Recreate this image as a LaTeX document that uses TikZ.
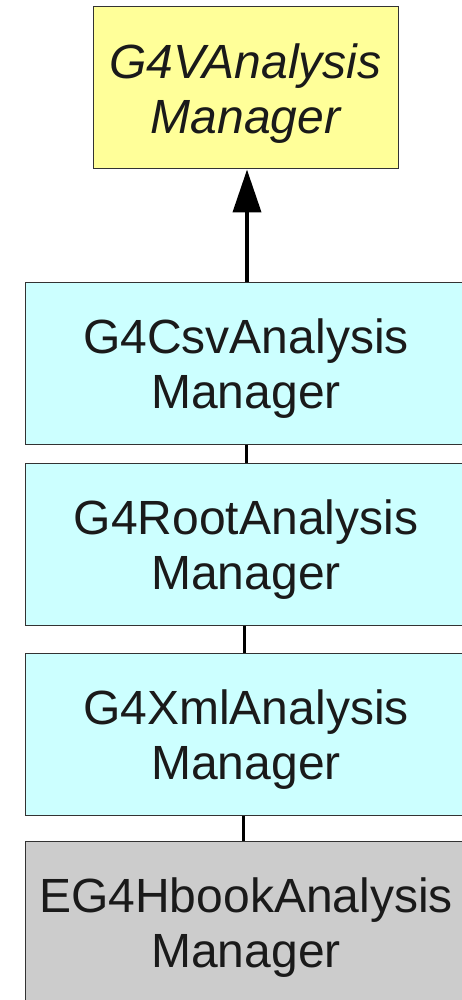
\documentclass[tikz,border=0pt]{standalone}
\usepackage{fontspec}
\setmainfont{Liberation Sans}
\usetikzlibrary{arrows.meta}
\definecolor{yel}{HTML}{FFFF99}
\definecolor{cya}{HTML}{CCFFFF}
\definecolor{gry}{HTML}{CCCCCC}
\definecolor{bord}{HTML}{333333}
\definecolor{txt}{HTML}{1A1A1A}
\newcommand{\toppad}{\rule{0pt}{45pt}}
\tikzset{
  cls/.style={draw=bord, line width=1pt, minimum height=162pt, inner sep=0pt,
    align=center, text=txt, font=\fontsize{48pt}{55pt}\selectfont},
  link/.style={line width=3pt, draw=black},
  inh/.style={line width=4pt, draw=black, -{Triangle[width=28pt,length=43pt]}}
}
\begin{document}
\begin{tikzpicture}[x=1pt,y=-1pt]
\useasboundingbox (0,0) rectangle (462,1000);
\clip (0,0) rectangle (462,1000);
\node[cls, fill=yel, minimum width=305pt] (base) at (245.5,88) {\toppad\itshape G4VAnalysis\\\itshape Manager};
\node[cls, fill=cya, minimum width=442pt] (csv) at (246,363) {\toppad G4CsvAnalysis\\Manager};
\node[cls, fill=cya, minimum width=442pt] (root) at (246,544) {\toppad G4RootAnalysis\\Manager};
\node[cls, fill=cya, minimum width=442pt] (xml) at (246,734) {\toppad G4XmlAnalysis\\Manager};
\node[cls, fill=gry, minimum width=442pt] (hbook) at (246,922) {\toppad EG4HbookAnalysis\\Manager};
\draw[inh] ([xshift=1pt]csv.north) -- ([xshift=1pt]csv.north |- base.south);
\draw[link] (root.north) -- (csv.south);
\draw[link] ([xshift=-2pt]xml.north) -- ([xshift=-2pt]root.south);
\draw[link] ([xshift=-3pt]hbook.north) -- ([xshift=-3pt]xml.south);
\end{tikzpicture}
\end{document}
